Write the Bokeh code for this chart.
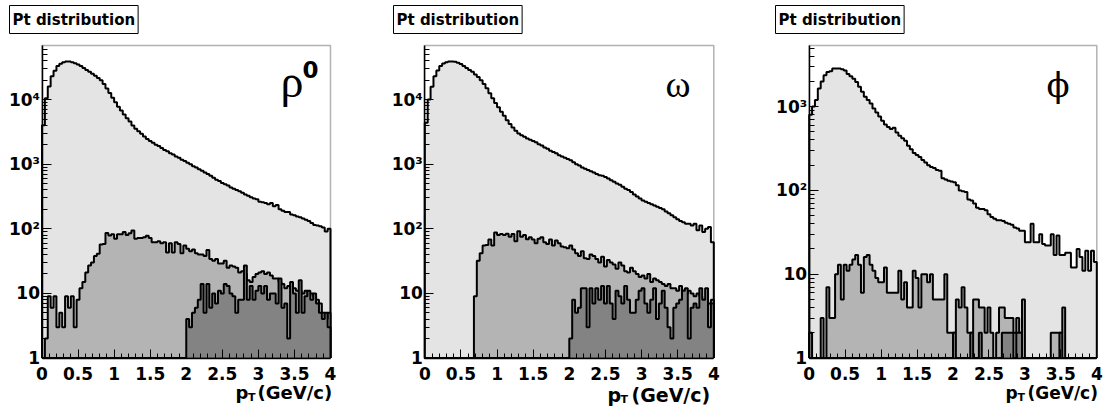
import numpy as np
from bokeh.plotting import figure
from bokeh.models import Range1d, FixedTicker, Label, BoxAnnotation
from bokeh.layouts import row
from bokeh.embed import file_html
from bokeh.resources import INLINE

# ---------------- data (100 bins of 0.04 GeV/c from 0 to 4) ----------------
bin_width = 0.04
n_bins = 100

rho_total = [4000, 10500, 16000, 23000, 28000, 33000, 36000, 38000, 38900, 38900,
             38000, 36700, 35100, 33100, 30900, 28800, 26900, 25100, 23400, 21600,
             20000, 17400, 14800, 12600, 10700, 9120, 7760, 6760, 5890, 5130,
             4570, 3980, 3550, 3240, 2950, 2690, 2450, 2290, 2140, 2000,
             1910, 1780, 1660, 1580, 1480, 1410, 1320, 1260, 1170, 1120,
             1050, 1000, 933, 891, 832, 794, 741, 708, 661, 617,
             575, 550, 513, 490, 468, 437, 417, 398, 380, 363,
             339, 324, 309, 295, 288, 263, 257, 251, 240, 251,
             224, 234, 200, 191, 182, 182, 166, 162, 155, 151,
             145, 138, 132, 123, 115, 112, 110, 105, 91, 100]
rho_mid = [0, 2, 9, 6, 9, 3, 5, 3, 9, 6,
           9, 3, 8, 12, 15, 21, 27, 30, 38, 41,
           57, 58, 86, 79, 82, 70, 82, 82, 89, 80,
           85, 94, 70, 72, 72, 74, 78, 72, 62, 62,
           64, 60, 62, 43, 60, 43, 62, 58, 42, 55,
           49, 45, 48, 42, 40, 40, 38, 47, 34, 32,
           34, 29, 29, 32, 25, 27, 26, 25, 21, 22,
           20, 16, 15, 18, 20, 21, 22, 20, 21, 19,
           17, 17, 15, 14, 12, 13, 12, 12, 11, 11,
           10, 11, 9, 10, 9, 8, 7, 5, 4, 5]
rho_high = [0, 0, 0, 0, 0, 0, 0, 0, 0, 0,
            0, 0, 0, 0, 0, 0, 0, 0, 0, 0,
            0, 0, 0, 0, 0, 0, 0, 0, 0, 0,
            0, 0, 0, 0, 0, 0, 0, 0, 0, 0,
            0, 0, 0, 0, 0, 0, 0, 0, 0, 0,
            4, 3, 5, 6, 8, 14, 5, 14, 6, 10,
            7, 11, 10, 14, 13, 10, 9, 5, 8, 8,
            27, 8, 13, 8, 11, 13, 10, 13, 8, 10,
            10, 7, 17, 6, 7, 2, 15, 10, 5, 16,
            5, 9, 11, 8, 10, 7, 5, 4, 5, 3]

omega_total = [4400, 10000, 15800, 22900, 28200, 33100, 36300, 38000, 38900, 38900,
               38500, 37200, 35500, 33100, 30900, 28800, 26900, 24500, 22400, 20000,
               17400, 15000, 12500, 10500, 8900, 7600, 6500, 5600, 4800, 4200,
               3700, 3300, 3000, 2800, 2650, 2500, 2400, 2290, 2190, 2040,
               1950, 1820, 1740, 1620, 1550, 1480, 1380, 1320, 1260, 1200,
               1150, 1070, 1000, 955, 891, 851, 813, 776, 741, 708,
               676, 661, 631, 603, 562, 537, 501, 479, 447, 417,
               398, 372, 339, 316, 295, 275, 263, 251, 240, 229,
               219, 209, 200, 186, 174, 162, 151, 141, 132, 126,
               120, 120, 112, 120, 95, 112, 89, 100, 107, 62]
omega_mid = [0, 0, 0, 0, 0, 0, 0, 0, 0, 0,
             0, 0, 0, 0, 0, 0, 0, 9, 32, 42,
             55, 56, 68, 55, 88, 80, 83, 80, 84, 75,
             83, 64, 92, 75, 80, 69, 74, 68, 60, 70,
             74, 62, 58, 68, 55, 66, 60, 53, 52, 50,
             55, 48, 42, 38, 45, 35, 34, 40, 38, 34,
             30, 37, 26, 33, 30, 28, 24, 30, 27, 22,
             21, 25, 22, 20, 18, 19, 17, 20, 15, 17,
             16, 15, 14, 13, 14, 12, 12, 11, 13, 11,
             10, 11, 10, 9, 10, 9, 8, 8, 7, 8]
omega_high = [0, 0, 0, 0, 0, 0, 0, 0, 0, 0,
              0, 0, 0, 0, 0, 0, 0, 0, 0, 0,
              0, 0, 0, 0, 0, 0, 0, 0, 0, 0,
              0, 0, 0, 0, 0, 0, 0, 0, 0, 0,
              0, 0, 0, 0, 0, 0, 0, 0, 0, 0,
              2, 8, 5, 6, 12, 12, 3, 12, 7, 12,
              8, 13, 7, 13, 7, 4, 11, 9, 7, 13,
              8, 5, 5, 8, 11, 12, 7, 5, 8, 12,
              4, 7, 11, 6, 3, 2, 6, 7, 8, 11,
              12, 2, 6, 7, 6, 12, 8, 12, 3, 7]

phi_total = [800, 1000, 1200, 1650, 2000, 2370, 2580, 2650, 2850, 2850,
             2850, 2800, 2700, 2450, 2300, 2150, 1960, 1720, 1500, 1310,
             1200, 1090, 950, 850, 760, 680, 610, 570, 540, 560,
             490, 450, 420, 390, 340, 310, 280, 265, 250, 230,
             215, 200, 190, 185, 175, 172, 140, 135, 130, 128,
             125, 115, 100, 98, 96, 78, 76, 70, 62, 60,
             60, 58, 52, 48, 46, 44, 44, 43, 41, 40,
             39, 36, 35, 33, 33, 24, 24, 40, 24, 24,
             30, 23, 22, 22, 30, 17, 29, 17, 17, 18,
             18, 12, 12, 20, 16, 11, 19, 11, 19, 14]
phi_mid = [2, 0, 0, 0, 3, 0, 7, 3, 3, 10,
           13, 5, 13, 11, 13, 15, 17, 13, 6, 16,
           17, 13, 11, 9, 8, 8, 12, 6, 6, 6,
           6, 11, 5, 8, 4, 4, 11, 9, 4, 10,
           10, 8, 10, 5, 5, 5, 5, 10, 2, 2,
           2, 5, 4, 7, 4, 2, 2, 5, 5, 4,
           4, 2, 4, 2, 0, 2, 4, 4, 3, 3,
           3, 2, 3, 2, 5, 0, 0, 0, 0, 0,
           0, 0, 0, 0, 2, 2, 2, 2, 4, 0,
           0, 0, 0, 0, 0, 0, 0, 0, 0, 0]
phi_high = [0, 0, 0, 0, 0, 0, 0, 0, 0, 0,
            0, 0, 0, 0, 0, 0, 0, 0, 0, 0,
            0, 0, 0, 0, 0, 0, 0, 0, 0, 0,
            0, 0, 0, 0, 0, 0, 0, 0, 0, 0,
            0, 0, 0, 0, 0, 0, 0, 0, 0, 0,
            2, 0, 0, 0, 0, 0, 2, 0, 0, 2,
            0, 0, 0, 0, 0, 0, 0, 2, 2, 2,
            2, 0, 2, 2, 0, 0, 0, 0, 0, 0,
            0, 0, 0, 0, 0, 0, 0, 2, 0, 0,
            0, 0, 0, 0, 0, 0, 0, 0, 0, 0]

x_major_ticks = [0, 0.5, 1, 1.5, 2, 2.5, 3, 3.5, 4]
x_minor_ticks = [0.1, 0.2, 0.3, 0.4, 0.6, 0.7, 0.8, 0.9, 1.1, 1.2, 1.3, 1.4,
                 1.6, 1.7, 1.8, 1.9, 2.1, 2.2, 2.3, 2.4, 2.6, 2.7, 2.8, 2.9,
                 3.1, 3.2, 3.3, 3.4, 3.6, 3.7, 3.8, 3.9]
y_labels = {1: "1", 10: "10", 100: "10²", 1000: "10³", 10000: "10⁴"}

colors = ["#e4e4e4", "#b4b4b4", "#838383"]
FONT = "DejaVu Sans"
H = 412              # canvas height
FT, FB = 45, 357.5   # frame top / bottom (canvas px)

edges = np.arange(n_bins + 1) * bin_width


def add_text(p, x, y, text, font=FONT, size=17, bold=True, **kw):
    p.add_layout(Label(x=x, y=y, x_units="canvas", y_units="canvas", text=text,
                       text_font=font, text_font_size=f"{size}px",
                       text_font_style="bold" if bold else "normal",
                       text_color="black", text_align="left",
                       text_baseline=kw.pop("baseline", "alphabetic"), **kw))


def make_panel(fig_w, f_left, f_right, ymax, hists, decades, symbol, sym_font, sym_size,
               sym_x, sym_y, sup, title_x, pt_pos, pt_size, pt_y):
    ppu = (f_right - f_left) / 4.0
    x0 = -f_left / ppu
    x1 = 4 + (fig_w - f_right) / ppu
    dec = (FB - FT) / np.log10(ymax)
    y0 = 10 ** (-(H - FB) / dec)
    y1 = 10 ** (FB / dec)

    p = figure(width=fig_w, height=H, x_range=Range1d(x0, x1),
               y_range=Range1d(y0, y1), y_axis_type="log",
               output_backend="svg", toolbar_location=None,
               min_border_left=0, min_border_right=0,
               min_border_top=0, min_border_bottom=0)
    p.xgrid.visible = False
    p.ygrid.visible = False
    p.outline_line_color = None
    p.background_fill_color = "white"
    p.border_fill_color = "white"

    for vals, col in zip(hists, colors):
        v = np.asarray(vals, dtype=float)
        top = np.where(v > 1, v, 1.0)
        xs = np.repeat(edges, 2)
        ys = np.concatenate([[1.0], np.repeat(top, 2), [1.0]])
        p.patch(xs, ys, fill_color=col, line_color=None)
        p.line(xs, ys, line_color="black", line_width=2)

    # frame
    p.add_layout(BoxAnnotation(left=0, right=4, bottom=1, top=ymax,
                               fill_alpha=0, line_color="black", line_width=1.5,
                               level="overlay"))

    yt = [10 ** k for k in range(decades + 1)]
    ym = [m * 10 ** k for k in range(decades + 1) for m in range(2, 10) if m * 10 ** k < ymax]
    p.yaxis.ticker = FixedTicker(ticks=yt, minor_ticks=ym)
    p.yaxis.major_label_overrides = {t: y_labels[t] for t in yt}
    p.xaxis.ticker = FixedTicker(ticks=x_major_ticks, minor_ticks=x_minor_ticks)
    p.xaxis.fixed_location = 1
    p.yaxis.fixed_location = 0
    p.xaxis.bounds = (0, 4)
    p.yaxis.bounds = (1, ymax)

    for ax in (p.xaxis[0], p.yaxis[0]):
        ax.axis_line_color = "black"
        ax.axis_line_width = 1.5
        ax.major_tick_line_color = "black"
        ax.minor_tick_line_color = "black"
        ax.major_tick_line_width = 1
        ax.minor_tick_line_width = 1
        ax.major_tick_in = 9
        ax.major_tick_out = 0
        ax.minor_tick_in = 5
        ax.minor_tick_out = 0
        ax.major_label_text_font = FONT
        ax.major_label_text_font_style = "bold"
        ax.major_label_text_font_size = "17px"
        ax.major_label_text_color = "black"
    p.xaxis.major_label_standoff = 9
    p.yaxis.major_label_standoff = 2

    # title box
    p.add_layout(Label(x=title_x, y=5, x_units="canvas", y_units="canvas",
                       text="Pt distribution", text_font=FONT, text_font_style="bold",
                       text_font_size="15px", text_color="black",
                       text_align="left", text_baseline="top",
                       border_line_color="black", border_line_width=1,
                       background_fill_color="white",
                       padding=dict(left=3, right=3, top=5, bottom=5)))
    # particle symbol
    add_text(p, sym_x, sym_y, symbol, font=sym_font, size=sym_size, bold=False)
    if sup:
        add_text(p, sym_x + 22, sym_y - 12, sup, size=23)
    # axis title p_T (GeV/c)
    px, tx, gx = pt_pos
    add_text(p, px, pt_y, "p", size=pt_size)
    add_text(p, tx, pt_y + 5, "T", size=11)
    add_text(p, gx, pt_y, "(GeV/c)", size=pt_size)
    return p


p1 = make_panel(369, 41.5, 330, 68800, [rho_total, rho_mid, rho_high], 4,
                "ρ", "Liberation Serif", 46, 280, 81, "0", 9, (235, 247.5, 257), 18, 392)
p2 = make_panel(369, 55.3, 344.3, 68800, [omega_total, omega_mid, omega_high], 4,
                "ω", "Liberation Serif", 38, 296, 83, None, 24, (238, 251, 262), 19, 394)
p3 = make_panel(370, 70.7, 358.3, 5360, [phi_total, phi_mid, phi_high], 3,
                "ϕ", "DejaVu Serif", 34, 308, 84, None, 37, (267, 279, 289), 17, 392)

layout = row(p1, p2, p3)
open("out.html", "w").write(file_html(layout, INLINE))
